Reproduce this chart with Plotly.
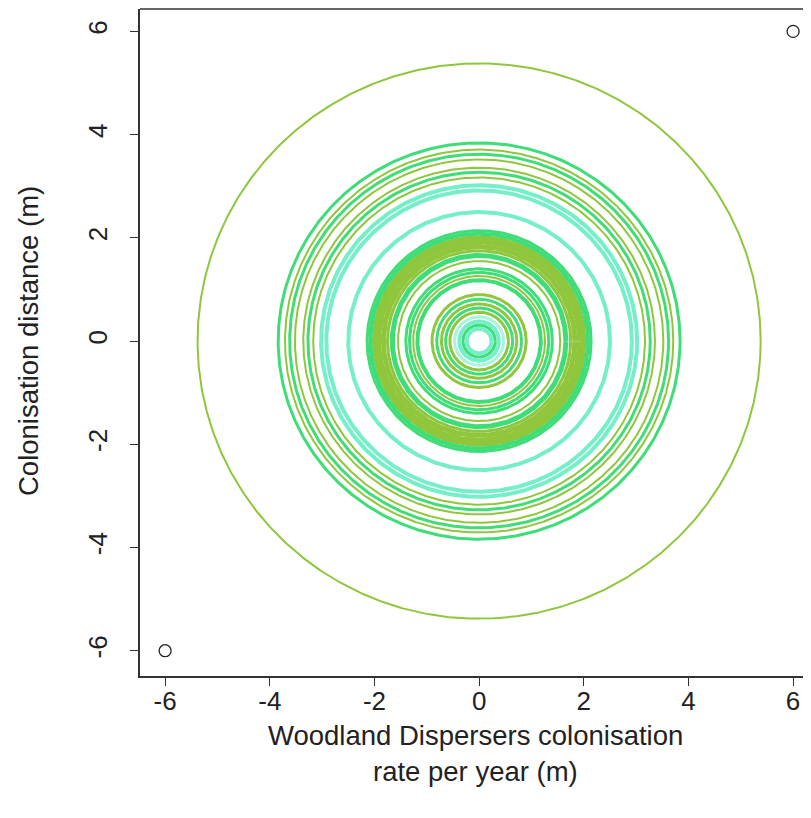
import numpy as np
import plotly.graph_objects as go

# ---- data ----
tick_vals = [-6, -4, -2, 0, 2, 4, 6]
tick_text = ["-6", "-4", "-2", "0", "2", "4", "6"]

point_x = [-6, 6]
point_y = [-6, 6]

ring_radius = [0.24, 0.31, 0.38, 0.47, 0.56, 0.64, 0.72, 0.81, 0.90,
               1.18, 1.26, 1.33, 1.40, 1.55, 1.66, 1.75, 1.83, 1.92, 2.00, 2.08, 2.14,
               2.50, 2.92, 3.02, 3.17, 3.27, 3.36, 3.52, 3.62, 3.71, 3.84, 5.38]
ring_kind = ["A", "G", "A", "L", "O", "G", "O", "G", "O",
             "G", "O", "G", "G", "O", "G", "O", "O", "O", "O", "G", "G",
             "A", "A", "A", "O", "G", "O", "O", "G", "O", "G", "O"]
ring_width = [4, 3, 4, 3, 3, 3, 3, 3, 3,
              4, 2, 3, 3, 2, 5, 3, 5, 5, 5, 4, 3,
              4, 4, 4, 2, 3, 2, 2, 3, 2, 3, 2]

palette = {"O": "#8fc63c", "G": "#3fdd78", "A": "#74efc9", "L": "#a8f4de"}

fig = go.Figure()

theta = np.linspace(0, 2 * np.pi, 721)
for r, k, w in zip(ring_radius, ring_kind, ring_width):
    fig.add_trace(go.Scatter(
        x=r * np.cos(theta), y=r * np.sin(theta), mode="lines",
        line=dict(color=palette[k], width=w), hoverinfo="skip", showlegend=False))

fig.add_trace(go.Scatter(
    x=point_x, y=point_y, mode="markers",
    marker=dict(symbol="circle-open", size=12, color="#222222", line=dict(width=1.3)),
    showlegend=False))

font = dict(family="Liberation Sans, Arial, sans-serif", size=26, color="#222222")
title_font = dict(family="Liberation Sans, Arial, sans-serif", size=27.5, color="#222222")

fig.update_layout(
    width=803, height=810,
    margin=dict(l=132, r=0, t=1, b=142),
    paper_bgcolor="white", plot_bgcolor="white",
    font=font,
    xaxis=dict(range=[-6.48, 6.342], tickvals=tick_vals, ticktext=tick_text,
               ticks="outside", ticklen=8, tickwidth=1.2, tickcolor="#333333",
               showgrid=False, zeroline=False, showline=True, linecolor="#333333",
               linewidth=1.5, ticklabelstandoff=-7, tickfont=font, automargin=False),
    yaxis=dict(range=[-6.49, 6.434], tickvals=tick_vals, ticktext=tick_text,
               ticks="outside", ticklen=8, tickwidth=1.2, tickcolor="#333333",
               showgrid=False, zeroline=False, showline=True, linecolor="#333333",
               linewidth=1.5, tickangle=-90, ticklabelstandoff=13, tickfont=font,
               automargin=False),
)

# top border of the box
fig.add_shape(type="line", xref="paper", yref="paper", x0=0, x1=1, y0=1, y1=1,
              line=dict(color="#333333", width=1.5))

fig.add_annotation(text="Woodland Dispersers colonisation", xref="paper", yref="paper",
                   x=(475 - 140) / 671, y=(676 - 736) / 667, xanchor="center",
                   yanchor="middle", showarrow=False, font=title_font)
fig.add_annotation(text="rate per year (m)", xref="paper", yref="paper",
                   x=(475 - 140) / 671, y=(676 - 771) / 667, xanchor="center",
                   yanchor="middle", showarrow=False, font=title_font)
fig.add_annotation(text="Colonisation distance (m)", xref="paper", yref="paper",
                   x=(28 - 140) / 671, y=(676 - 341) / 667, xanchor="center",
                   yanchor="middle", textangle=-90, showarrow=False, font=title_font)

fig.write_html("out.html")
